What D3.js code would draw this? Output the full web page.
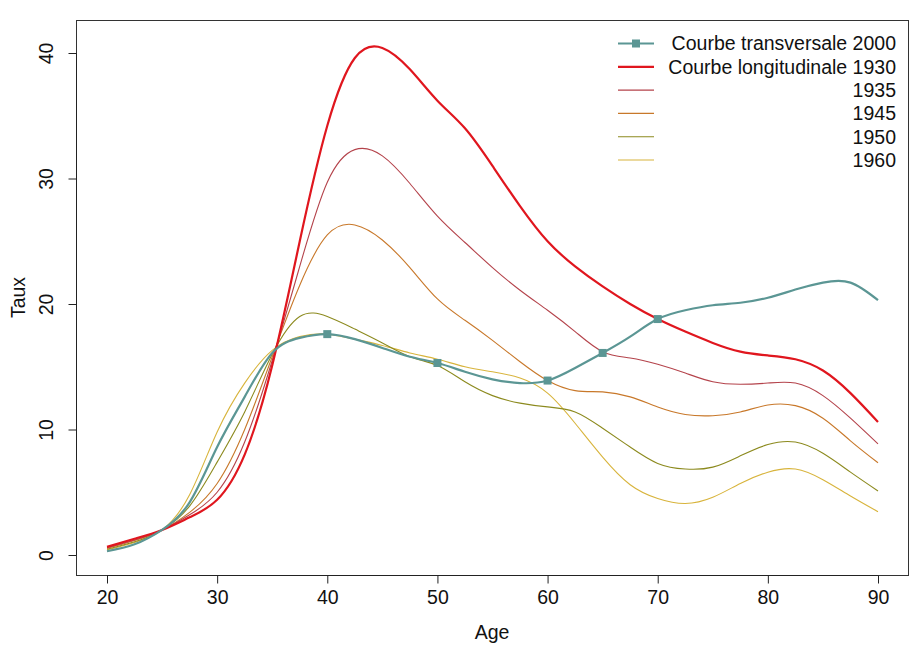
<!DOCTYPE html>
<html>
<head>
<meta charset="utf-8">
<script src="https://cdn.jsdelivr.net/npm/d3@7/dist/d3.min.js"></script>
<style>
  html, body { margin: 0; padding: 0; background: #fff; }
  svg { display: block; font-family: "Liberation Sans", Arial, Helvetica, sans-serif; }
</style>
</head>
<body>
<svg id="chart" width="913" height="652"></svg>
<script>
// Ages sampled every 2.5 years
const ages = [20, 22.5, 25, 27.5, 30, 32.5, 35, 37.5, 40, 42.5, 45, 47.5, 50, 52.5, 55,
              57.5, 60, 62.5, 65, 67.5, 70, 72.5, 75, 77.5, 80, 82.5, 85, 87.5, 90];

// Rates by age
const transversale2000 = [0.3, 0.85, 2.0, 4.2, 8.6, 12.6, 16.1, 17.3, 17.6, 17.2, 16.5, 15.8, 15.3, 14.6, 14.0,
                          13.7, 13.9, 14.9, 16.1, 17.4, 18.8, 19.5, 19.9, 20.1, 20.5, 21.15, 21.7, 21.7, 20.3];
const longi1930 = [0.65, 1.3, 2.0, 3.0, 4.4, 8.0, 15.1, 25.0, 34.2, 39.6, 40.4, 38.7, 36.2, 34.0, 31.0,
                   27.8, 25.0, 23.0, 21.4, 20.0, 18.8, 17.8, 16.9, 16.2, 15.9, 15.6, 14.7, 12.9, 10.6];
const longi1935 = [0.58, 1.2, 2.0, 3.2, 5.0, 9.0, 15.5, 23.0, 29.7, 32.3, 31.8, 29.6, 27.0, 24.9, 22.9,
                   21.1, 19.5, 17.8, 16.2, 15.7, 15.2, 14.5, 13.8, 13.6, 13.7, 13.7, 12.7, 10.9, 8.85];
const longi1945 = [0.52, 1.15, 2.0, 3.4, 5.7, 10.0, 15.8, 21.5, 25.5, 26.3, 25.1, 22.9, 20.4, 18.7, 17.1,
                   15.4, 13.9, 13.1, 13.0, 12.6, 11.8, 11.2, 11.1, 11.4, 11.95, 11.9, 10.9, 9.1, 7.35];
const longi1950 = [0.46, 1.05, 2.0, 3.9, 7.4, 11.4, 16.0, 19.0, 19.0, 18.0, 16.9, 15.8, 15.1, 13.8, 12.7,
                   12.1, 11.8, 11.4, 10.1, 8.6, 7.3, 6.85, 7.0, 7.9, 8.8, 9.0, 8.1, 6.6, 5.1];
const longi1960 = [0.4, 1.0, 2.0, 4.8, 9.8, 13.7, 16.3, 17.4, 17.6, 17.2, 16.7, 16.1, 15.6, 15.0, 14.6,
                   14.1, 12.9, 10.5, 7.8, 5.6, 4.5, 4.1, 4.6, 5.7, 6.6, 6.85, 6.0, 4.7, 3.45];

// Ages where the cross-sectional curve carries a marker
const markerAges = [40, 50, 60, 65, 70];

const xTicks = [20, 30, 40, 50, 60, 70, 80, 90];
const yTicks = [0, 10, 20, 30, 40];

const legendLabels = ["Courbe transversale 2000", "Courbe longitudinale 1930", "1935", "1945", "1950", "1960"];

const series = [
  { name: legendLabels[0], values: transversale2000, color: "#5b9694", width: 2.2, markers: true },
  { name: legendLabels[1], values: longi1930, color: "#e0161e", width: 2.2 },
  { name: legendLabels[2], values: longi1935, color: "#b4434b", width: 1.1 },
  { name: legendLabels[3], values: longi1945, color: "#c8782a", width: 1.1 },
  { name: legendLabels[4], values: longi1950, color: "#8c8a1e", width: 1.1 },
  { name: legendLabels[5], values: longi1960, color: "#d8b43c", width: 1.1 }
];

const FONT = 19.5;
const svg = d3.select("#chart");
const box = { left: 76, right: 908, top: 20, bottom: 575 };

const x = d3.scaleLinear().domain([20, 90]).range([107, 878]);
const y = d3.scaleLinear().domain([0, 40]).range([555, 53]);

// plot frame
svg.append("rect")
  .attr("x", box.left + 0.5).attr("y", box.top + 0.5)
  .attr("width", box.right - box.left).attr("height", box.bottom - box.top)
  .attr("fill", "none").attr("stroke", "#333").attr("stroke-width", 1);

// axes
const xAxis = svg.append("g").attr("transform", `translate(0,${box.bottom + 0.5})`)
  .call(d3.axisBottom(x).tickValues(xTicks).tickSize(8).tickPadding(7).tickFormat(d3.format("d")));
xAxis.select(".domain").attr("d", `M${x(20)},0H${x(90)}`).attr("stroke", "#222");
xAxis.selectAll("text").attr("font-size", FONT).attr("fill", "#111")
  .attr("font-family", "'Liberation Sans', Arial, sans-serif");
xAxis.selectAll(".tick line").attr("stroke", "#222");

const yAxis = svg.append("g").attr("transform", `translate(${box.left + 0.5},0)`)
  .call(d3.axisLeft(y).tickValues(yTicks).tickSize(8).tickFormat(d3.format("d")));
yAxis.select(".domain").attr("d", `M0,${y(0)}V${y(40)}`).attr("stroke", "#222");
yAxis.selectAll(".tick line").attr("stroke", "#222");
yAxis.selectAll("text")
  .attr("font-size", FONT).attr("fill", "#111")
  .attr("font-family", "'Liberation Sans', Arial, sans-serif")
  .attr("text-anchor", "middle")
  .attr("x", 0).attr("dy", 0)
  .attr("transform", "translate(-31,0) rotate(-90)")
  .attr("dominant-baseline", "central");

// axis titles
svg.append("text").attr("x", (box.left + box.right) / 2).attr("y", 639)
  .attr("text-anchor", "middle").attr("font-size", FONT).attr("fill", "#111").text("Age");
svg.append("text").attr("transform", `translate(25,${(box.top + box.bottom) / 2}) rotate(-90)`)
  .attr("text-anchor", "middle").attr("font-size", FONT).attr("fill", "#111").text("Taux");

// curves
const line = d3.line()
  .x((d, i) => x(ages[i]))
  .y(d => y(d))
  .curve(d3.curveNatural);

const drawOrder = [5, 4, 3, 2, 1, 0];
drawOrder.forEach(k => {
  const s = series[k];
  svg.append("path").datum(s.values)
    .attr("d", line)
    .attr("fill", "none")
    .attr("stroke", s.color)
    .attr("stroke-width", s.width)
    .attr("stroke-linejoin", "round");
});

// markers on the cross-sectional curve
const t = series[0];
svg.append("g").selectAll("rect")
  .data(markerAges)
  .join("rect")
  .attr("x", a => x(a) - 4).attr("y", a => y(t.values[ages.indexOf(a)]) - 4)
  .attr("width", 8).attr("height", 8)
  .attr("fill", t.color);

// legend
const lg = svg.append("g");
const legY0 = 43.5, legStep = 23.3;
series.forEach((s, i) => {
  const yy = legY0 + i * legStep;
  lg.append("line").attr("x1", 618).attr("x2", 654).attr("y1", yy).attr("y2", yy)
    .attr("stroke", s.color).attr("stroke-width", s.width);
  if (s.markers) {
    lg.append("rect").attr("x", 632).attr("y", yy - 4).attr("width", 8).attr("height", 8).attr("fill", s.color);
  }
  lg.append("text").attr("x", 896).attr("y", yy).attr("dy", "0.35em")
    .attr("text-anchor", "end").attr("font-size", FONT).attr("fill", "#111").text(s.name);
});
</script>
</body>
</html>
